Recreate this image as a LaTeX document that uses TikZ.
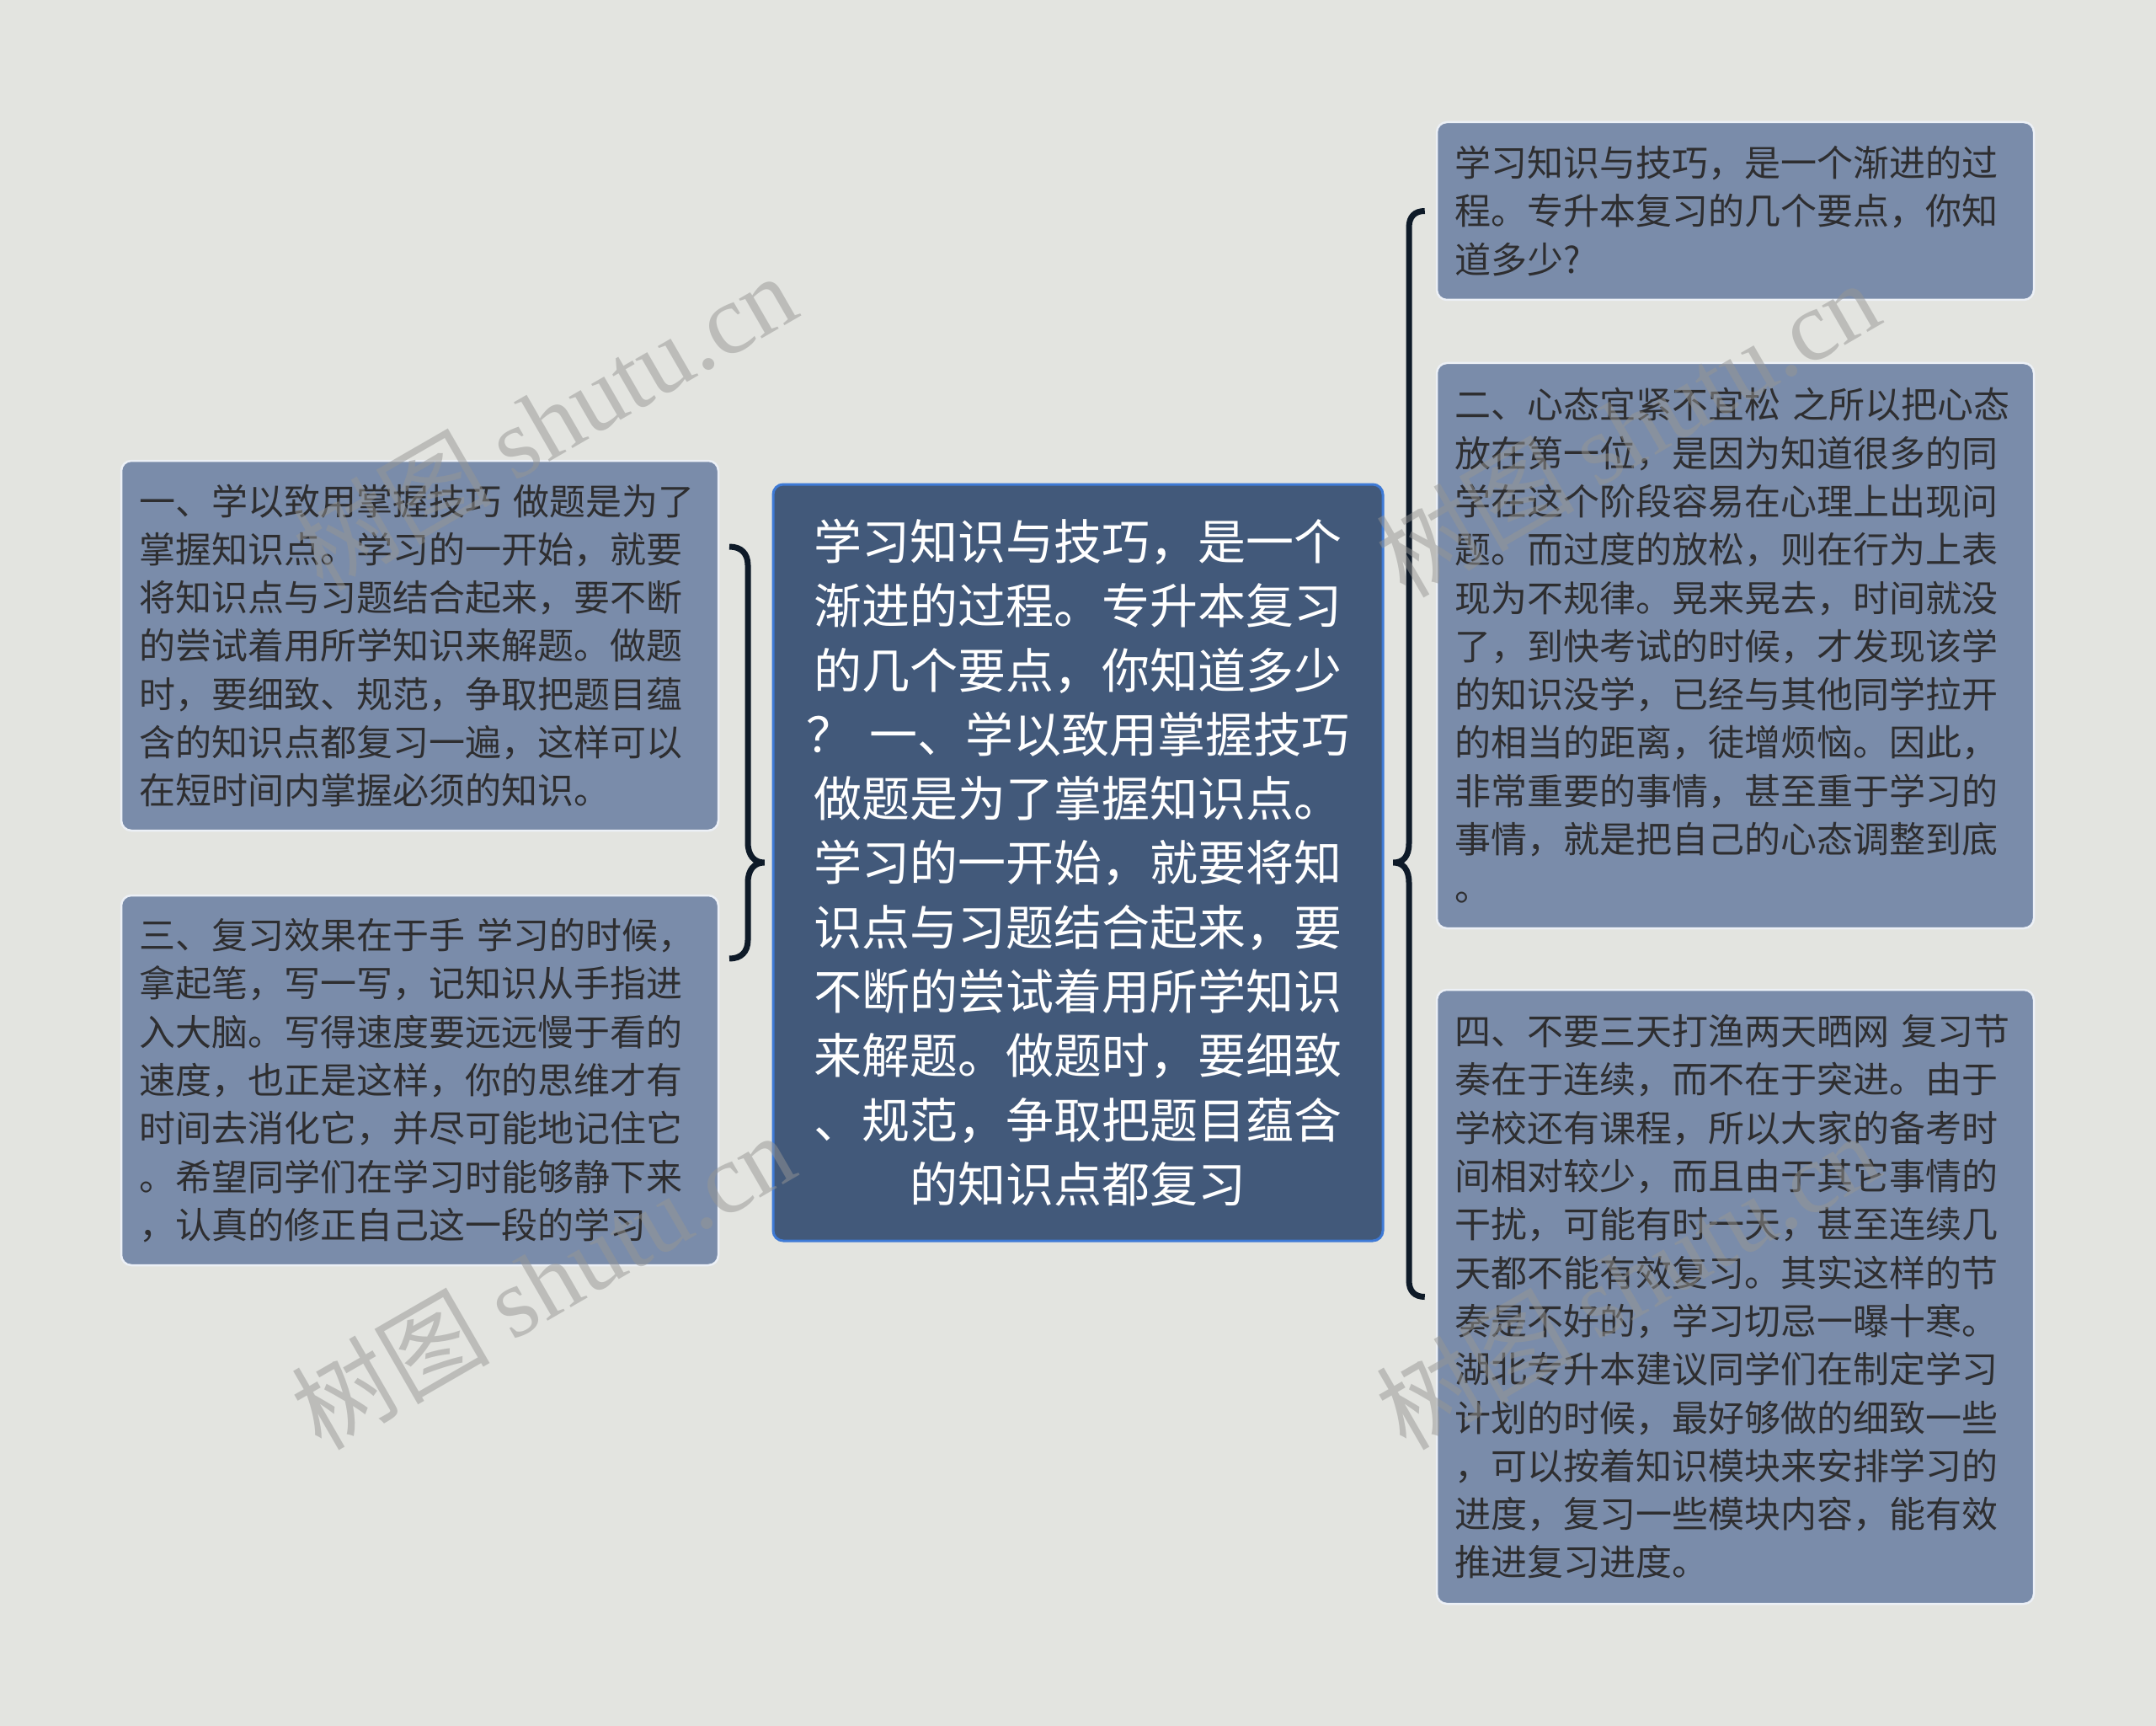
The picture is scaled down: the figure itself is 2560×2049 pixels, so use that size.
\documentclass[tikz,border=0pt]{standalone}
\usepackage{fontspec}
\setmainfont{Noto Sans CJK SC}
\newfontfamily\wmlatin{Liberation Serif}
\newfontfamily\wmcjk{Noto Sans CJK SC}
\definecolor{bgcol}{RGB}{227,228,224}
\definecolor{childfill}{RGB}{122,140,170}
\definecolor{childline}{RGB}{236,240,246}
\definecolor{childtext}{RGB}{46,46,48}
\definecolor{centerfill}{RGB}{66,89,122}
\definecolor{centerline}{RGB}{62,122,214}
\definecolor{bracecol}{RGB}{14,26,40}
\definecolor{wmcol}{RGB}{150,150,148}
\tikzset{
  childbox/.style={draw=childline, line width=2.5pt, fill=childfill, rounded corners=12pt,
    text=childtext, font=\fontsize{43}{57.3}\selectfont, align=left,
    text width=667pt, inner xsep=21pt, inner ysep=0pt, minimum width=709pt},
  centerbox/.style={draw=centerline, line width=3pt, fill=centerfill, rounded corners=12pt,
    text=white, font=\fontsize{57}{76.3}\selectfont, align=center,
    text width=700pt, inner xsep=12pt, inner ysep=0pt, minimum width=724pt},
  bracestyle/.style={draw=bracecol, line width=7pt},
  watermark/.style={rotate=30, text=wmcol, text opacity=0.5, inner sep=0pt}
}
\begin{document}
\begin{tikzpicture}[x=1pt,y=-1pt]
\fill[bgcol] (0,0) rectangle (2560,2049);
\useasboundingbox (0,0) rectangle (2560,2049);

% center node
\node[centerbox, minimum height=898pt] (C) at (1280,1024) {%
学习知识与技巧，是一个\\
渐进的过程。专升本复习\\
的几个要点，你知道多少\\
？ 一、学以致用掌握技巧\\
做题是为了掌握知识点。\\
学习的一开始，就要将知\\
识点与习题结合起来，要\\
不断的尝试着用所学知识\\
来解题。做题时，要细致\\
、规范，争取把题目蕴含\\
的知识点都复习};

% left children
\node[childbox, minimum height=439pt] (L1) at (498.5,766.5) {%
一、学以致用掌握技巧 做题是为了\\
掌握知识点。学习的一开始，就要\\
将知识点与习题结合起来，要不断\\
的尝试着用所学知识来解题。做题\\
时，要细致、规范，争取把题目蕴\\
含的知识点都复习一遍，这样可以\\
在短时间内掌握必须的知识。};

\node[childbox, minimum height=439pt] (L2) at (498.5,1282.5) {%
三、复习效果在于手 学习的时候，\\
拿起笔，写一写，记知识从手指进\\
入大脑。写得速度要远远慢于看的\\
速度，也正是这样，你的思维才有\\
时间去消化它，并尽可能地记住它\\
。希望同学们在学习时能够静下来\\
，认真的修正自己这一段的学习};

% right children
\node[childbox, minimum height=211pt] (R1) at (2060.5,250.5) {%
学习知识与技巧，是一个渐进的过\\
程。专升本复习的几个要点，你知\\
道多少?};

\node[childbox, minimum height=671pt] (R2) at (2060.5,766.5) {%
二、心态宜紧不宜松 之所以把心态\\
放在第一位，是因为知道很多的同\\
学在这个阶段容易在心理上出现问\\
题。而过度的放松，则在行为上表\\
现为不规律。晃来晃去，时间就没\\
了，到快考试的时候，才发现该学\\
的知识没学，已经与其他同学拉开\\
的相当的距离，徒增烦恼。因此，\\
非常重要的事情，甚至重于学习的\\
事情，就是把自己的心态调整到底\\
。};

\node[childbox, minimum height=729pt] (R3) at (2060.5,1539.5) {%
四、不要三天打渔两天晒网 复习节\\
奏在于连续，而不在于突进。由于\\
学校还有课程，所以大家的备考时\\
间相对较少，而且由于其它事情的\\
干扰，可能有时一天，甚至连续几\\
天都不能有效复习。其实这样的节\\
奏是不好的，学习切忌一曝十寒。\\
湖北专升本建议同学们在制定学习\\
计划的时候，最好够做的细致一些\\
，可以按着知识模块来安排学习的\\
进度，复习一些模块内容，能有效\\
推进复习进度。};

% brace connectors
\coordinate (LT) at (866,649);
\coordinate (LB) at (866,1138);
\coordinate (LTip) at ([xshift=-9pt]C.west);
\draw[bracestyle] (LT) .. controls (880,649) and (888,657) .. (888,671)
  -- (888,1000) .. controls (888,1016) and (896,1024) .. (LTip)
  .. controls (896,1024) and (888,1032) .. (888,1048)
  -- (888,1116) .. controls (888,1130) and (880,1138) .. (LB);

\coordinate (RTip) at ([xshift=11pt]C.east);
\draw[bracestyle] ([xshift=-13pt]R1.west) .. controls (1680,250.5) and (1673,257) .. (1673,270)
  -- (1673,1001) .. controls (1673,1017) and (1666,1024) .. (RTip)
  .. controls (1666,1024) and (1673,1032) .. (1673,1048)
  -- (1673,1520) .. controls (1673,1533) and (1680,1539.5) .. ([xshift=-13pt]R3.west);

% watermarks
\foreach \wx/\wy [count=\i] in {646/500, 644/1520, 1932/508, 1932/1520} {
  \node[watermark] (wm\i) at (\wx,\wy) {\fontsize{118}{118}\selectfont\wmcjk 树图 \wmlatin shutu.cn};
}
\end{tikzpicture}
\end{document}
